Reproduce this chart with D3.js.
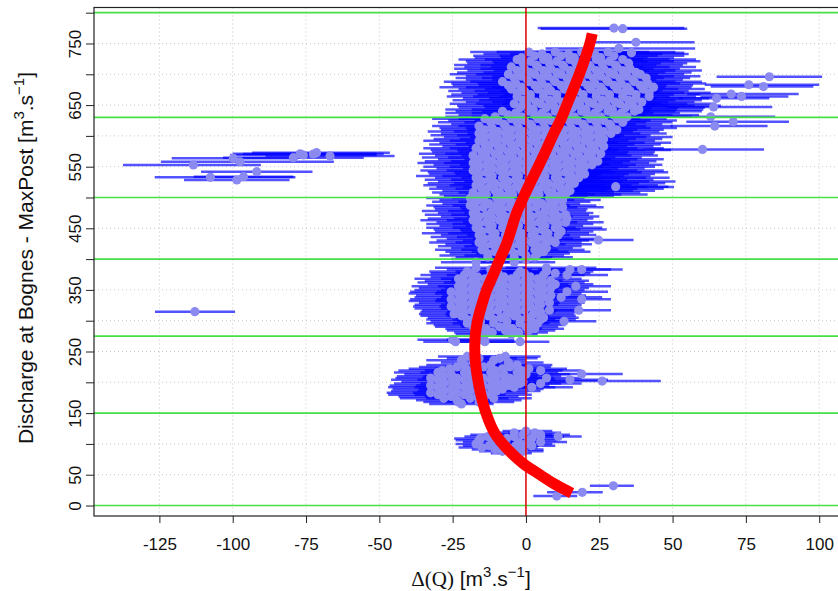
<!DOCTYPE html>
<html><head><meta charset="utf-8">
<script src="https://cdn.jsdelivr.net/npm/d3@7"></script>
<style>body{margin:0;background:#fff}svg{display:block}</style>
</head><body>
<svg id="c" width="838" height="591"></svg>
<script>
// Each row: [discharge MaxPost, width below, width above, delta(Q) values...]
const rowsHigh = [
[736,20,23,1,10,19,28],[733,20,32,5.5,14.5,23.5],[730,21,24,3,12,21,30],[727,16,25,-1.5,7.5,16.5,25.5],
[724,20,25,-3,6,15,24,33],[721,22,31,1.5,10.5,19.5,28.5],[718,19,20,-1,8,17,26,35],[715,28,23,3.5,12.5,21.5,30.5],
[712,16,27,-5,4,13,22,31],[709,24,17,-0.5,8.5,17.5,26.5,35.5],[706,17,27,-3,6,15,24,33],[703,25,19,1.5,10.5,19.5,28.5,37.5],
[700,20,15,-6,3,12,21,30,39],[697,19,25,-1.5,7.5,16.5,25.5,34.5],[694,20,15,-4,5,14,23,32,41],[691,21,17,0.5,9.5,18.5,27.5,36.5],
[688,20,23,-8,1,10,19,28,37],[685,22,20,-3.5,5.5,14.5,23.5,32.5,41.5],[682,19,18,-6,3,12,21,30,39],[679,28,13,-1.5,7.5,16.5,25.5,34.5,43.5],
[676,18,21,-5,4,13,22,31,40],[673,26,20,-0.5,8.5,17.5,26.5,35.5],[670,19,21,-3,6,15,24,33,42],[667,27,22,1.5,10.5,19.5,28.5,37.5],
[664,24,16,-3,6,15,24,33,42],[661,23,25,1.5,10.5,19.5,28.5,37.5],[658,24,25,-1,8,17,26,35],[655,24,18,3.5,12.5,21.5,30.5,39.5],
[652,22,32,-4,5,14,23,32],[649,24,30,0.5,9.5,18.5,27.5,36.5],[646,21,27,-2,7,16,25,34],[643,30,22,2.5,11.5,20.5,29.5,38.5],
[640,16,23,-8,1,10,19,28,37],[637,24,20,-3.5,5.5,14.5,23.5,32.5],[634,17,29,-6,3,12,21,30],[631,17,22,-10.5,-1.5,7.5,16.5,25.5,34.5],
[628,18,17,-14,-5,4,13,22,31],[625,17,25,-9.5,-0.5,8.5,17.5,26.5],[622,18,17,-12,-3,6,15,24,33],[619,18,18,-7.5,1.5,10.5,19.5,28.5],
[616,16,21,-16,-7,2,11,20,29],[613,18,27,-11.5,-2.5,6.5,15.5,24.5],[610,15,16,-14,-5,4,13,22,31],[607,24,19,-9.5,-0.5,8.5,17.5,26.5],
[604,13,19,-16,-7,2,11,20,29],[601,21,18,-11.5,-2.5,6.5,15.5,24.5],[598,14,28,-14,-5,4,13,22],[595,22,20,-9.5,-0.5,8.5,17.5,26.5],
[592,19,24,-16,-7,2,11,20],[589,18,25,-11.5,-2.5,6.5,15.5,24.5],[586,19,24,-14,-5,4,13,22],[583,19,17,-9.5,-0.5,8.5,17.5,26.5],
[580,18,28,-17,-8,1,10,19],[577,20,26,-12.5,-3.5,5.5,14.5,23.5],[574,17,23,-15,-6,3,12,21],[571,26,18,-10.5,-1.5,7.5,16.5,25.5],
[568,13,27,-18,-9,0,9,18],[565,22,17,-13.5,-4.5,4.5,13.5,22.5],[562,14,27,-16,-7,2,11,20],[559,23,20,-11.5,-2.5,6.5,15.5,24.5],
[556,19,24,-18,-9,0,9,18],[553,18,24,-13.5,-4.5,4.5,13.5,22.5],[550,19,24,-16,-7,2,11,20],[547,19,25,-11.5,-2.5,6.5,15.5],
[544,18,29,-18,-9,0,9,18],[541,20,35,-13.5,-4.5,4.5,13.5],[538,17,24,-16,-7,2,11,20],[535,26,27,-11.5,-2.5,6.5,15.5],
[532,14,31,-17,-8,1,10,18],[529,22,29,-12.5,-3.5,5.5,14.5],[526,15,39,-15,-6,3,12],[523,23,31,-10.5,-1.5,7.5,16.5],
[520,18,35,-17,-8,1,10],[517,18,36,-12.5,-3.5,5.5,14.5],[514,18,35,-15,-6,3,12],[511,18,29,-10.5,-1.5,7.5,15],
[508,14,30,-18,-9,0,9],[505,16,28,-13.5,-4.5,4.5,13.5],[502,12,19,-16,-7,2,11]
];
const rowsMid = [
[499,15,12,-19,-10,-1,8],[496,15,13,-14.5,-5.5,3.5,12.5],[493,15,12,-17,-8,1,10],[490,16,13,-12.5,-3.5,5.5],
[487,15,16,-19,-10,-1,8],[484,17,14,-14.5,-5.5,3.5,12.5],[481,14,11,-17,-8,1,10],[478,24,14,-11.5,-2.5,6.5],
[475,12,14,-18,-9,0,9],[472,21,8,-13.5,-4.5,4.5,13.5],[469,13,14,-16,-7,2,11],[466,22,9,-11.5,-2.5,6.5,14],
[463,18,12,-18,-9,0,9],[460,17,13,-13.5,-4.5,4.5,13.5],[457,18,12,-16,-7,2,11],[454,18,13,-11.5,-2.5,6.5],
[451,17,16,-17,-8,1,10],[448,19,22,-12.5,-3.5,5.5],[445,16,11,-15,-6,3,12],[442,25,14,-10.5,-1.5,7.5],
[439,13,13,-16,-7,2,11],[436,21,12,-11.5,-2.5,6.5],[433,13,21,-14,-5,4],[430,21,13,-9.5,-0.5,8.5],
[427,17,9,-16,-7,2,10],[424,16,16,-11.5,-2.5,6.5],[421,16,15,-14,-5,4],[418,16,9,-9.5,-0.5,7],
[415,16,17,-15,-6,3],[412,17,16,-10.5,-1.5,6],[409,13,11,-13,-4,4],[406,21,13,-8.5,0],
[403,11,13,-13,-4,3],[400,17,8,-8.5,0],[395,12,14,-17,-4],[431,12,12,24.7]
];
const rows300 = [
[386,14,17,-17,7],[383,15,14,-12,15,19],[380,13,16,-20,-11,-2,7],[377,14,12,-18.5,-9.5,-0.5,10],
[374,15,14,-21,-12,-3,6,14],[371,16,14,-16.5,-7.5,1.5],[368,15,15,-23,-14,-5,4],[365,16,13,-18.5,-9.5,-0.5,8.5],
[362,16,14,-21,-12,-3,6],[359,17,13,-16.5,-7.5,1.5,10],[356,16,12,-23,-14,-5,4,17],[353,18,13,-18.5,-9.5,-0.5,8.5],
[350,17,14,-21,-12,-3,6],[347,14,14,-25.5,-16.5,-7.5,1.5,14],[344,17,15,-23,-14,-5,4],[341,19,12,-18.5,-9.5,-0.5,8.5],
[338,17,14,-21,-12,-3,6,12],[335,14,10,-25.5,-16.5,-7.5,1.5,19],[332,17,14,-23,-14,-5,4],[329,18,12,-18.5,-9.5,-0.5,8],
[326,17,14,-21,-12,-3,5],[323,13,16,-25.5,-16.5,-7.5,1.5],[320,15,13,-23,-14,-5,4],[317,17,11,-18.5,-9.5,-0.5,8,18],
[314,15,13,-21,-12,-3,5],[311,12,14,-24.5,-15.5,-6.5,2.5],[308,14,12,-22,-13,-4,5],[305,16,12,-17.5,-8.5,0.5,6],
[302,14,12,-20,-11,-2,5],[299,17,11,-15.5,-6.5,2,13],[296,14,10,-20,-11,-2,4],[293,16,11,-15.5,-6.5,2.5],
[290,13,11,-18,-9,0],[287,14,10,-13.5,-4.5,3],[284,11,9,-16,-7,1],[281,13,10,-11.5,-2.5],[278,10,9,-14,-5],
[269,12,11,-25,-15],[266,11,10,-24,-14,-2]
];
const rows200 = [
[242,10,12,-20,-7],[239,11,13,-16,-9],[236,12,11,-22,-11],[232,11,12,-18,-6],
[228,13,12,-21,-12,-3],[225,13,14,-23.5,-14.5,-5.5],[222,14,13,-26,-17,-8,1],[219,15,14,-28.5,-19.5,-10.5,-1.5,5],
[216,15,14,-30,-21,-12,-3],[213,16,15,-25.5,-16.5,-7.5,0],[210,16,14,-28,-19,-10,-2],[207,12,15,-32.5,-23.5,-14.5,-5.5],
[204,16,14,-30,-21,-12,-4],[201,17,15,-25.5,-16.5,-7.5,-1],[198,17,14,-28,-19,-10,-2,5],[195,14,14,-32.5,-23.5,-14.5,-6],
[192,17,14,-30,-21,-12,-4,2],[189,20,14,-25.5,-16.5,-8],[186,18,15,-28,-19,-10],[183,15,15,-32.5,-23.5,-14.5],
[180,17,14,-30,-21,-12],[177,18,14,-25.5,-16.5],[174,15,13,-28,-19,-11],[171,14,13,-23.5,-14.5],
[168,12,12,-23,-16],[165,11,11,-22],
[213.5,14,14,19],[207,12,12,7],[204,13,13,15],[202,20,20,26]
];
const rows100 = [
[121,8,9,0],[118,9,9,-4,3],[115,9,10,-10,-1,5],[112,8,8,-13,-4,5,11],[109,9,9,-15.5,-6.5,2],
[106,8,10,-16,-7,1],[103,10,9,-11.5,-2.5,5],[100,7,9,-17,-8,0],[97,9,8,-12.5,-3.5,2],[94,8,10,-15,-6],
[91,8,8,-10.5,-2],[88,8,7,-8,-1],[85,7,7,-5]
];
const rowsLow = [[15.4,8,7,10.5],[21.4,12,7,19.2],[32,8,7,29.8]];
const rowsTop = [[775,26,24,30],[774,28,22,33],[752,16,20,37.5],[742,25,26,31.7],[735,14,18,36],[517.5,14,18,30.6]];
const rowsRight = [
[696,18,18,83],[683,15,24,76],[680,18,17,81],[668,15,23,70],[664,14,16,73.5],[661,13,18,65],
[647,16,20,64],[631,15,22,63],[623,16,19,70.7],[616,15,18,64.4],[578,20,21,60.2]
];
const rowsLeft = [
[552.8,24,23,-113.4],[563.6,21,22,-99.8],[558,27,32,-97.5],[569,25,25,-75.9],[570.6,24,24,-72.5],
[567.4,22,22,-66.8],[564.6,24,24,-79.3],[572.8,22,25,-71.4],[571,23,26,-77],[541.9,19,19,-91.8],
[532.8,19,29,-107.6],[528.4,18,18,-98.6],[533.8,17,17,-96.3],[314.6,13.6,13.7,-112.9]
];
// Red curve: discharge and delta
const curveQ = [20,36,50,68,90,117,150,187,236,275,300,325,350,375,400,425,450,475,500,525,550,575,600,630,650,700,750,766];
const curveD = [15.6,9.3,4.8,-0.9,-6,-10.6,-13.6,-15.7,-17.3,-17.3,-16.5,-15.1,-13.4,-11.1,-8.9,-6.6,-4.9,-3.2,-0.9,1.6,4.2,6.7,9.1,12.2,13.9,18.2,21.8,22.6];
const greenLevels = [0,150,275,400,500,630,800];
const xTicks = [-125,-100,-75,-50,-25,0,25,50,75,100];
const yTicks = [0,50,100,150,200,250,300,350,400,450,500,550,600,650,700,750,800];
const yTickLabels = ["0","50","","150","","250","","350","","450","","550","","650","","750",""];

const svg = d3.select("#c");
const L=94, R=845, T=7.5, B=516;
const x = d3.scaleLinear().domain([-147.3,108.8]).range([L,R]);
const y = d3.scaleLinear().domain([-17,808.4]).range([B,T]);

svg.append("defs").append("clipPath").attr("id","clip")
  .append("rect").attr("x",L).attr("y",T).attr("width",R-L).attr("height",B-T);
const plot = svg.append("g").attr("clip-path","url(#clip)");

plot.selectAll(".gx").data(xTicks).join("line")
  .attr("x1",d=>x(d)).attr("x2",d=>x(d)).attr("y1",T).attr("y2",B)
  .attr("stroke","#c8c8c8").attr("stroke-dasharray","1,3");
plot.selectAll(".gy").data(yTicks).join("line")
  .attr("y1",d=>y(d)).attr("y2",d=>y(d)).attr("x1",L).attr("x2",R)
  .attr("stroke","#c8c8c8").attr("stroke-dasharray","1,3");

function expand(rows){
  const out=[];
  rows.forEach(r=>{const [q,lo,hi,...ds]=r; ds.forEach(d=>out.push({q,d,lo:d-lo,hi:d+hi}));});
  return out;
}
const pts = [rowsHigh,rowsMid,rows300,rows200,rows100,rowsLow,rowsTop,rowsRight,rowsLeft].flatMap(expand);

plot.append("g").selectAll("line").data(pts).join("line")
  .attr("x1",d=>x(d.lo)).attr("x2",d=>x(d.hi)).attr("y1",d=>y(d.q)).attr("y2",d=>y(d.q))
  .attr("stroke","#0000ff").attr("stroke-opacity",0.68).attr("stroke-width",2.5);
plot.append("g").selectAll("circle").data(pts).join("circle")
  .attr("cx",d=>x(d.d)).attr("cy",d=>y(d.q)).attr("r",4.6).attr("fill","#8a8af0");

plot.selectAll(".green").data(greenLevels).join("line")
  .attr("x1",L).attr("x2",R).attr("y1",d=>y(d)).attr("y2",d=>y(d))
  .attr("stroke","#44e044").attr("stroke-width",1.6);
plot.append("line").attr("x1",x(0)).attr("x2",x(0)).attr("y1",T).attr("y2",B)
  .attr("stroke","#e00000").attr("stroke-width",1.5);

const curveData = curveQ.map((q,i)=>({q, d:curveD[i]}));
plot.append("path").datum(curveData)
  .attr("d", d3.line().x(d=>x(d.d)).y(d=>y(d.q)).curve(d3.curveCatmullRom))
  .attr("fill","none").attr("stroke","#ff0000").attr("stroke-width",11);

svg.append("rect").attr("x",L).attr("y",T).attr("width",R-L).attr("height",B-T)
  .attr("fill","none").attr("stroke","#222").attr("stroke-width",1.2);

const font = "'Liberation Sans', Arial, Helvetica, sans-serif";
const ax = svg.append("g").attr("transform",`translate(0,${B})`)
  .call(d3.axisBottom(x).tickValues(xTicks).tickSize(7).tickFormat(d=>String(d)));
ax.select(".domain").remove();
ax.selectAll("line").attr("stroke","#222");
ax.selectAll("text").attr("y",34).attr("dy",0).attr("font-size",17).attr("font-family",font).attr("fill","#111");

const ay = svg.append("g").attr("transform",`translate(${L},0)`)
  .call(d3.axisLeft(y).tickValues(yTicks).tickSize(8).tickFormat((d,i)=>yTickLabels[i]));
ay.select(".domain").remove();
ay.selectAll("line").attr("stroke","#222");
ay.selectAll("text").attr("transform","rotate(-90)").attr("x",0).attr("y",-13).attr("dy",0)
  .attr("text-anchor","middle").attr("font-size",17).attr("font-family",font).attr("fill","#111");

const xt = svg.append("text").attr("x",471).attr("y",586).attr("text-anchor","middle")
  .attr("font-size",21).attr("font-family",font).attr("fill","#111");
xt.append("tspan").attr("font-family","'Liberation Serif','Times New Roman',serif").text("Δ(Q)");
xt.append("tspan").text(" [m");
xt.append("tspan").attr("font-size",15).attr("dy",-9).text("3");
xt.append("tspan").attr("dy",9).text(".s");
xt.append("tspan").attr("font-size",15).attr("dy",-9).text("\u22121");
xt.append("tspan").attr("dy",9).text("]");

const yt = svg.append("text").attr("transform","translate(33,258) rotate(-90)").attr("text-anchor","middle")
  .attr("font-size",21).attr("font-family",font).attr("fill","#111");
yt.append("tspan").text("Discharge at Bognes - MaxPost [m");
yt.append("tspan").attr("font-size",15).attr("dy",-9).text("3");
yt.append("tspan").attr("dy",9).text(".s");
yt.append("tspan").attr("font-size",15).attr("dy",-9).text("\u22121");
yt.append("tspan").attr("dy",9).text("]");
</script>
</body></html>
